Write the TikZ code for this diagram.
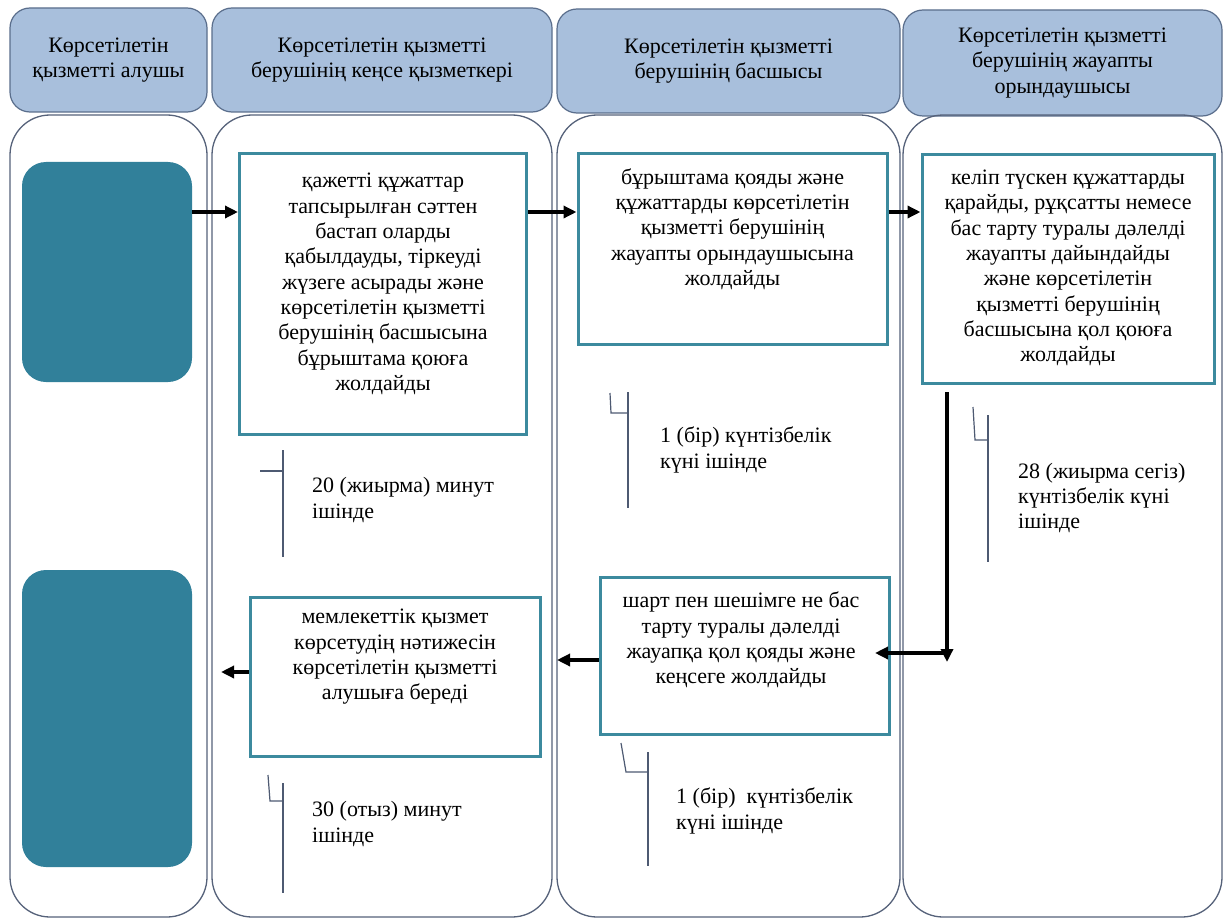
\documentclass[tikz,border=0pt]{standalone}
\usepackage{fontspec}
\setmainfont{Liberation Serif}
\usetikzlibrary{arrows.meta,calc}
\definecolor{hdrfill}{HTML}{A8BFDC}
\definecolor{hdrdraw}{HTML}{5A6E8C}
\definecolor{lanedraw}{HTML}{56627A}
\definecolor{tealfill}{HTML}{31809A}
\definecolor{boxdraw}{HTML}{3C8A9E}
\definecolor{anndraw}{HTML}{4E5A72}
\newcommand\mysz{\fontsize{22}{25.3}\selectfont}
\begin{document}
\begin{tikzpicture}[x=1pt,y=-1pt,
  hdr/.style={draw=hdrdraw, fill=hdrfill, line width=1.2pt, rounded corners=20pt, align=center, font=\mysz},
  lane/.style={draw=lanedraw, line width=1.3pt, rounded corners=40pt},
  client/.style={fill=tealfill, rounded corners=24pt},
  stepbox/.style={draw=boxdraw, line width=3pt, fill=white},
  txt/.style={align=center, font=\mysz, inner sep=0pt},
  ann/.style={draw=anndraw, line width=1.2pt},
  anntxt/.style={align=left, anchor=west, font=\mysz, inner sep=0pt},
  arr/.style={line width=3.6pt, -{Triangle[length=13pt,width=12pt]}}
]
\useasboundingbox (0,0) rectangle (1225,920);
\fill[white] (0,0) rectangle (1225,920);
% headers
\node[hdr, minimum width=197pt, minimum height=104pt] (h1) at (108.5,60) {Көрсетілетін\\қызметті алушы};
\node[hdr, minimum width=340pt, minimum height=104pt] (h2) at (382,60) {Көрсетілетін қызметті\\берушінің кеңсе қызметкері};
\node[hdr, minimum width=343pt, minimum height=104pt] (h3) at (728.5,61) {Көрсетілетін қызметті\\берушінің басшысы};
\node[hdr, minimum width=319pt, minimum height=106pt] (h4) at (1062.5,63) {Көрсетілетін қызметті\\берушінің жауапты\\орындаушысы};
% lanes
\node[lane, minimum width=197pt, minimum height=802pt] (l1) at (108.5,516) {};
\node[lane, minimum width=340pt, minimum height=802pt] (l2) at (382,516) {};
\node[lane, minimum width=343pt, minimum height=802pt] (l3) at (728.5,516) {};
\node[lane, minimum width=319pt, minimum height=802pt] (l4) at (1062.5,516) {};
% client shapes
\node[client, minimum width=170pt, minimum height=220pt] (t1) at (107,272) {};
\node[client, minimum width=170pt, minimum height=297pt] (t2) at (107,718.5) {};
% step boxes
\node[stepbox, minimum width=287pt, minimum height=280pt] (b1) at (383,294) {};
\node[txt] (b1t) at (383,284) {қажетті құжаттар\\тапсырылған сәттен\\бастап оларды\\қабылдауды, тіркеуді\\жүзеге асырады және\\көрсетілетін қызметті\\берушінің басшысына\\бұрыштама қоюға\\жолдайды};
\node[stepbox, minimum width=309pt, minimum height=190pt] (b2) at (732.5,249) {};
\node[txt] (b2t) at (732.5,229) {бұрыштама қояды және\\құжаттарды көрсетілетін\\қызметті берушінің\\жауапты орындаушысына\\жолдайды};
\node[stepbox, minimum width=292pt, minimum height=228pt] (b3) at (1068,269) {};
\node[txt] (b3t) at (1068,268) {келіп түскен құжаттарды\\қарайды, рұқсатты немесе\\бас тарту туралы дәлелді\\жауапты дайындайды\\және көрсетілетін\\қызметті берушінің\\басшысына қол қоюға\\жолдайды};
\node[stepbox, minimum width=289pt, minimum height=157pt] (b4) at (744.5,655.5) {};
\node[txt] (b4t) at (741,640) {шарт пен шешімге не бас\\тарту туралы дәлелді\\жауапқа қол қояды және\\кеңсеге жолдайды};
\node[stepbox, minimum width=290pt, minimum height=159pt] (b5) at (395,676.5) {};
\node[txt] (b5t) at (395,657) {мемлекеттік қызмет\\көрсетудің нәтижесін\\көрсетілетін қызметті\\алушыға береді};
% arrows
\draw[arr] (t1.east |- 0,212) -- (b1.west |- 0,212);
\draw[arr] (b1.east |- 0,212) -- (b2.west |- 0,212);
\draw[arr] (b2.east |- 0,212) -- (b3.west |- 0,212);
\coordinate (c1) at (947,392);
\coordinate (c2) at (947,662);
\coordinate (c2h) at (947,653);
\coordinate (c2t) at (875,653);
\draw[arr] (c1) -- (c2);
\draw[arr] (c2h) -- (c2t);
\coordinate (c3) at (557,660);
\draw[arr] (b4.west |- c3) -- (c3);
\coordinate (c4) at (221,672);
\draw[arr] (b5.west |- c4) -- (c4);
% annotations
\draw[ann] (283,450) -- (283,557);
\draw[ann] (260,471) -- (283,471);
\node[anntxt] (a1) at (312,500) {20 (жиырма) минут\\ішінде};
\draw[ann] (628,392) -- (628,508);
\draw[ann] (610,393) -- (611,413) -- (628,413);
\node[anntxt] (a2) at (660,450) {1 (бір) күнтізбелік\\күні ішінде};
\draw[ann] (988,415) -- (988,562);
\draw[ann] (973,407) -- (975,440) -- (988,440);
\node[anntxt] (a3) at (1018,498) {28 (жиырма сегіз)\\күнтізбелік күні\\ішінде};
\draw[ann] (283,783) -- (283,893);
\draw[ann] (268,775) -- (270,801) -- (283,801);
\node[anntxt] (a4) at (312,824) {30 (отыз) минут\\ішінде};
\draw[ann] (648,752) -- (648,866);
\draw[ann] (621,743) -- (626,772) -- (648,772);
\node[anntxt] (a5) at (676,811) {1 (бір)\ \ күнтізбелік\\күні ішінде};
\end{tikzpicture}
\end{document}
